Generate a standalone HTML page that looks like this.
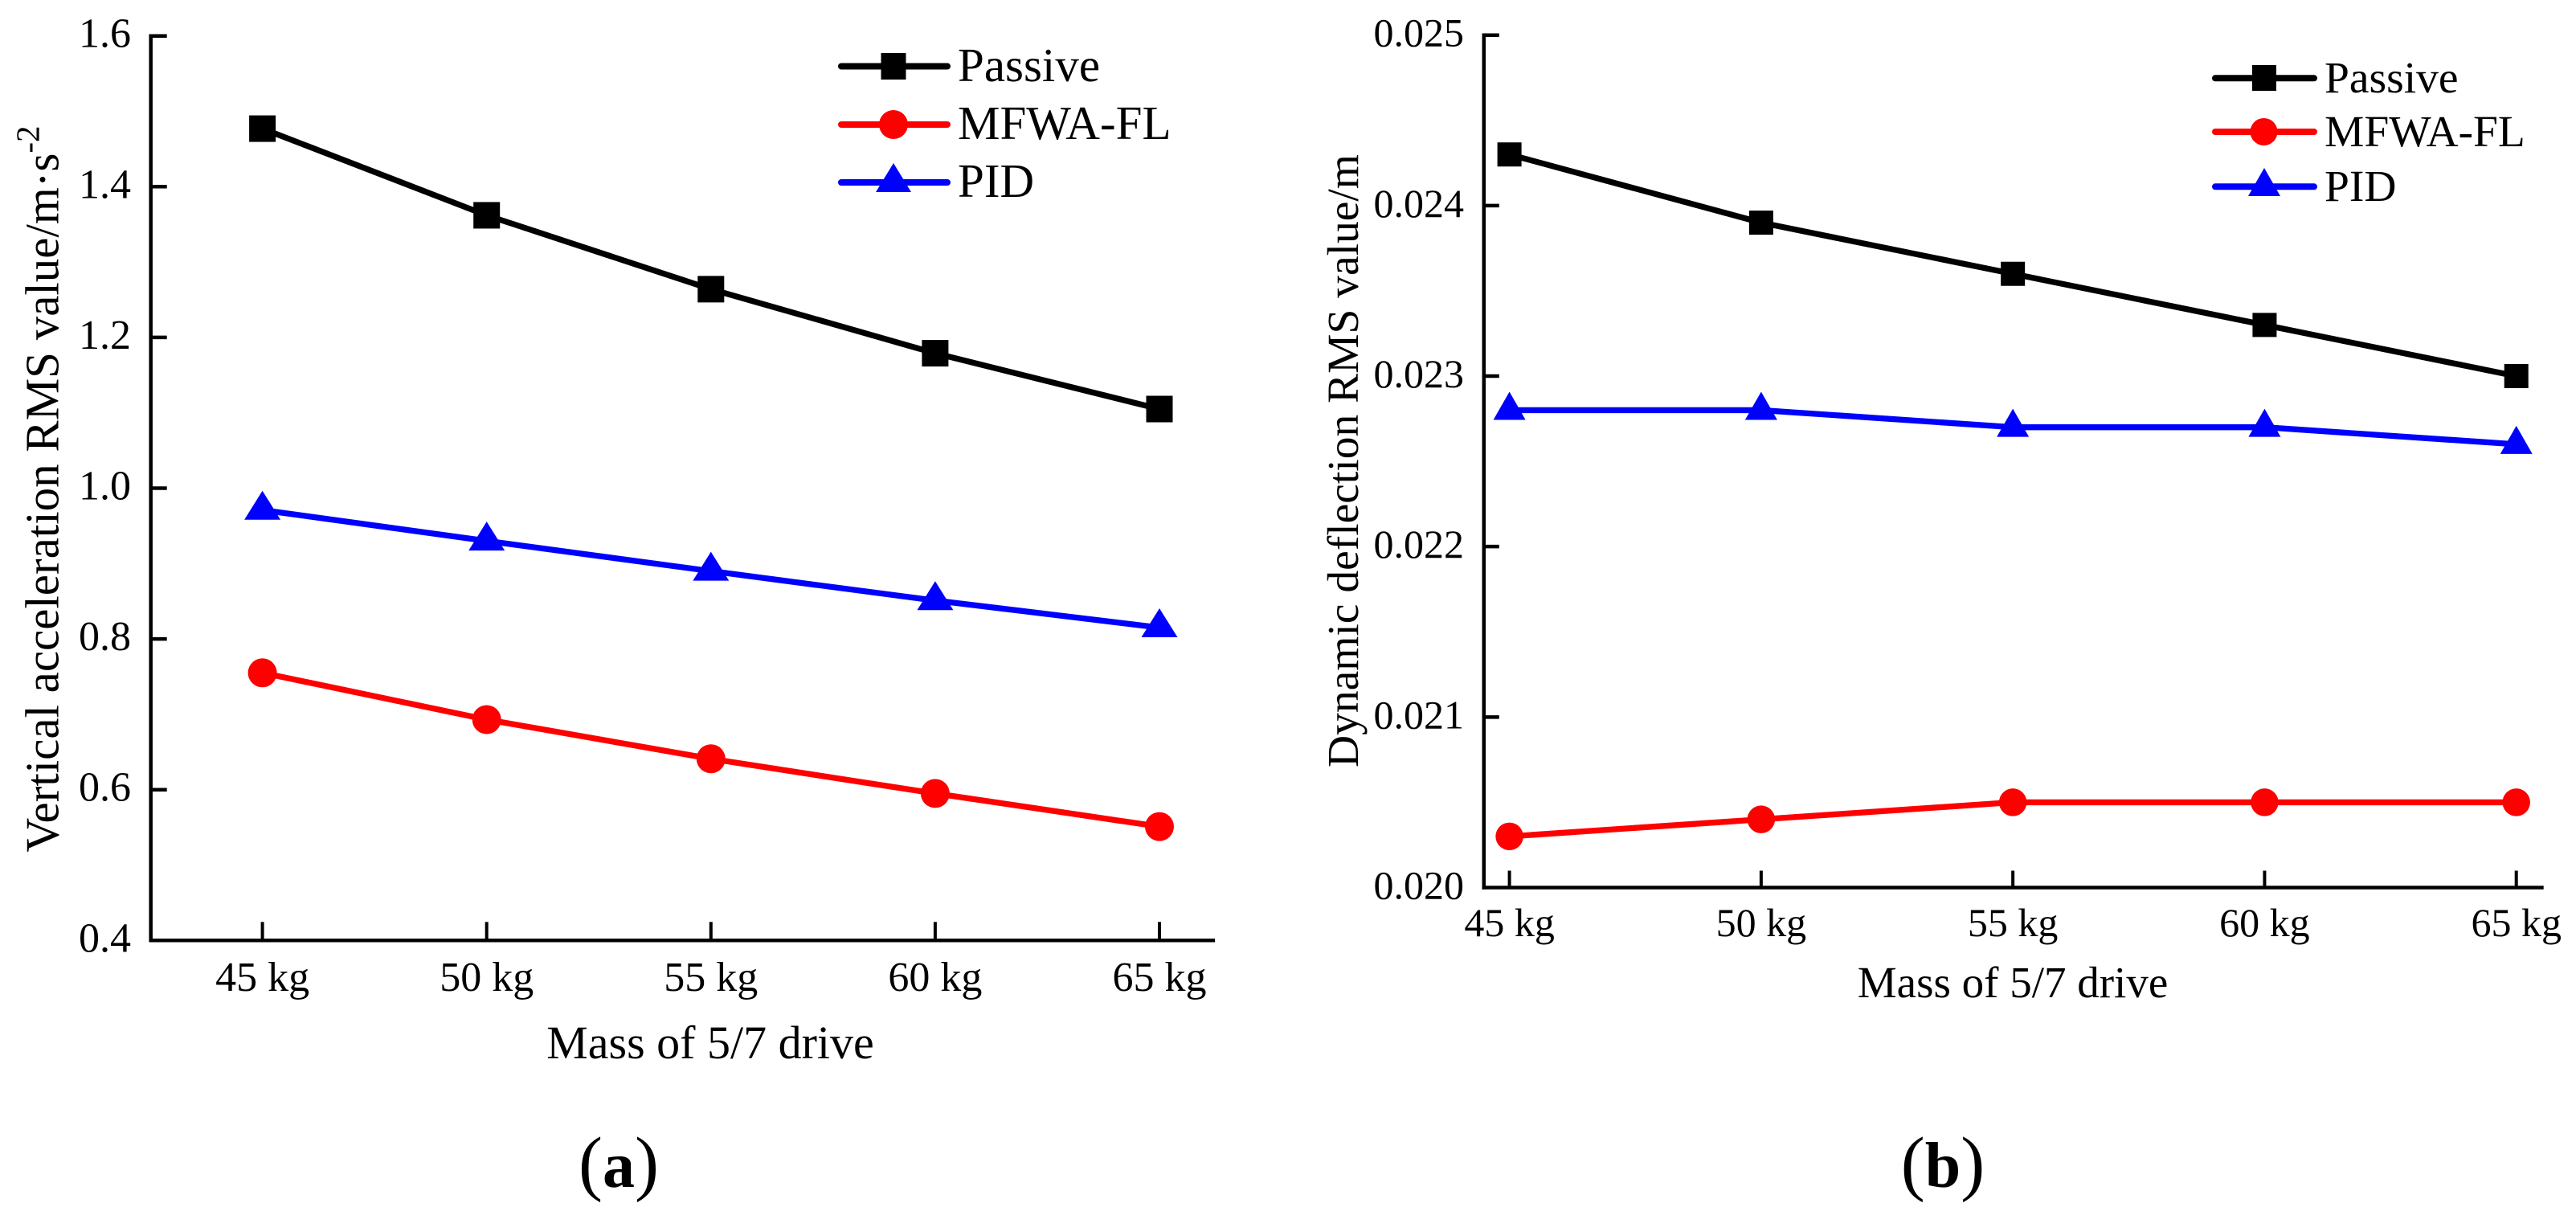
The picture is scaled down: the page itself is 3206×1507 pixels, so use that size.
<!DOCTYPE html>
<html lang="en">
<head>
<meta charset="utf-8">
<title>RMS values versus mass of 5/7 drive</title>
<style>
html,body{margin:0;padding:0;background:#fff;}
svg{display:block;}
text{font-family:"Liberation Serif",serif;fill:#000;}
</style>
</head>
<body>
<svg id="figure" xmlns="http://www.w3.org/2000/svg" width="3206" height="1507" viewBox="0 0 3206 1507">
  <rect width="3206" height="1507" fill="#fff"/>

  <g id="chart-a">
    <text transform="translate(72.5,608.5) rotate(-90)" text-anchor="middle" font-size="59">Vertical acceleration RMS value/m·s<tspan font-size="41" dy="-24">-2</tspan></text>
    <text x="884" y="1317" text-anchor="middle" font-size="58">Mass of 5/7 drive</text>
    <g>
      <line x1="1047" x2="1179" y1="82.5" y2="82.5" stroke="#000" stroke-width="8" stroke-linecap="round"/>
      <rect x="1096.5" y="66" width="31" height="33" fill="#000"/>
      <text x="1192" y="101" font-size="59">Passive</text>
      <line x1="1047" x2="1179" y1="155" y2="155" stroke="#f00" stroke-width="8" stroke-linecap="round"/>
      <circle cx="1112" cy="155" r="18" fill="#f00"/>
      <text x="1192" y="173" font-size="59">MFWA-FL</text>
      <line x1="1047" x2="1179" y1="227" y2="227" stroke="#00f" stroke-width="8" stroke-linecap="round"/>
      <polygon points="1112,203 1134,239 1090,239" fill="#00f"/>
      <text x="1192" y="245" font-size="59">PID</text>
    </g>
  </g>

  <g id="chart-b">
    <text transform="translate(1690,573.5) rotate(-90)" text-anchor="middle" font-size="55.5">Dynamic deflection RMS value/m</text>
    <text x="2505" y="1241" text-anchor="middle" font-size="55">Mass of 5/7 drive</text>
    <g>
      <line x1="2757" x2="2880" y1="97.3" y2="97.3" stroke="#000" stroke-width="8" stroke-linecap="round"/>
      <rect x="2803" y="81" width="30" height="32" fill="#000"/>
      <text x="2893" y="115" font-size="55.5">Passive</text>
      <line x1="2757" x2="2880" y1="164" y2="164" stroke="#f00" stroke-width="8" stroke-linecap="round"/>
      <circle cx="2817.5" cy="164" r="17" fill="#f00"/>
      <text x="2893" y="182" font-size="55.5">MFWA-FL</text>
      <line x1="2757" x2="2880" y1="232.3" y2="232.3" stroke="#00f" stroke-width="8" stroke-linecap="round"/>
      <polygon points="2818,209 2838,244 2798,244" fill="#00f"/>
      <text x="2893" y="250" font-size="55.5">PID</text>
    </g>
  </g>

  <text x="770" y="1477" text-anchor="middle" font-size="90">(<tspan font-weight="bold" font-size="80">a</tspan>)</text>
  <text x="2418" y="1477" text-anchor="middle" font-size="90">(<tspan font-weight="bold" font-size="80">b</tspan>)</text>
</svg>

<script>
const categories = ['45 kg', '50 kg', '55 kg', '60 kg', '65 kg'];

const yTickLabelsA = ['0.4', '0.6', '0.8', '1.0', '1.2', '1.4', '1.6'];
const passiveA = [1.477, 1.362, 1.264, 1.179, 1.105];
const mfwaFlA = [0.755, 0.693, 0.641, 0.595, 0.551];
const pidA = [0.971, 0.930, 0.890, 0.851, 0.815];

const yTickLabelsB = ['0.020', '0.021', '0.022', '0.023', '0.024', '0.025'];
const passiveB = [0.0243, 0.0239, 0.0236, 0.0233, 0.0230];
const mfwaFlB = [0.0203, 0.0204, 0.0205, 0.0205, 0.0205];
const pidB = [0.0228, 0.0228, 0.0227, 0.0227, 0.0226];

const NS = 'http://www.w3.org/2000/svg';

function make(parent, tag, attrs) {
  const node = document.createElementNS(NS, tag);
  Object.keys(attrs).forEach(function (k) { node.setAttribute(k, attrs[k]); });
  parent.appendChild(node);
  return node;
}

function linearScale(d0, d1, r0, r1) {
  return function (v) { return r0 + (v - d0) * (r1 - r0) / (d1 - d0); };
}

function drawMarker(group, kind, color, cx, cy, m) {
  if (kind === 'square') {
    return make(group, 'rect', { x: cx - m.square / 2, y: cy - m.square / 2, width: m.square, height: m.square, fill: color });
  }
  if (kind === 'circle') {
    return make(group, 'circle', { cx: cx, cy: cy, r: m.circle / 2, fill: color });
  }
  const pts = [[cx, cy - m.triUp], [cx + m.triHalf, cy + m.triDown], [cx - m.triHalf, cy + m.triDown]];
  return make(group, 'polygon', { points: pts.map(function (p) { return p.join(','); }).join(' '), fill: color });
}

function drawChart(opts) {
  const root = document.getElementById(opts.id);
  const tickLabels = opts.yLabels;
  const xScale = linearScale(0, categories.length - 1, opts.xFirst, opts.xLast);
  const yScale = linearScale(parseFloat(tickLabels[0]), parseFloat(tickLabels[tickLabels.length - 1]), opts.yBottom, opts.yTop);

  const axisY = make(root, 'line', { x1: opts.axisX, x2: opts.axisX, y1: opts.yTop - 2.2, y2: opts.yBottom + 2.2, stroke: '#000', 'stroke-width': 4.5 });
  
  

  const axisX = make(root, 'line', { x1: opts.axisX - 2.2, x2: opts.axisEnd, y1: opts.yBottom, y2: opts.yBottom, stroke: '#000', 'stroke-width': 4.5 });
  
  

  tickLabels.forEach(function (label) {
    const y = yScale(parseFloat(label));
    if (label !== tickLabels[0]) {
      const tick = make(root, 'line', { x1: opts.axisX, x2: opts.axisX + opts.yTickLen, y1: y, y2: y, stroke: '#000', 'stroke-width': 4.5 });
      
      
    }
    const text = make(root, 'text', { x: opts.yLabelX, y: y + 14, 'text-anchor': 'end', 'font-size': opts.tickFont });
    text.textContent = label;
    
    
  });

  categories.forEach(function (cat, i) {
    const x = xScale(i);
    const tick = make(root, 'line', { x1: x, x2: x, y1: opts.yBottom - opts.xTickLen, y2: opts.yBottom, stroke: '#000', 'stroke-width': 4 });
    
    
    const text = make(root, 'text', { x: x, y: opts.xLabelY, 'text-anchor': 'middle', 'font-size': opts.tickFont });
    text.textContent = cat;
    
    
  });

  opts.series.forEach(function (s) {
    const group = make(root, 'g', {});
    
    
    const points = s.values.map(function (v, i) { return xScale(i) + ',' + yScale(v); }).join(' ');
    const line = make(group, 'polyline', { points: points, fill: 'none', stroke: s.color, 'stroke-width': opts.lineWidth, 'stroke-linejoin': 'round' });
    
    
    s.values.forEach(function (v, i) {
      const marker = drawMarker(group, s.kind, s.color, xScale(i), yScale(v), opts.marker);
      
      
    });
  });
}

drawChart({
  id: 'chart-a', suffix: 'a', yLabels: yTickLabelsA,
  axisX: 187.7, axisEnd: 1512, xFirst: 326.6, xLast: 1443, yTop: 44.7, yBottom: 1170.3,
  yTickLen: 20, xTickLen: 23, yLabelX: 163, xLabelY: 1233, tickFont: 52, lineWidth: 7.3,
  marker: { square: 33, circle: 36, triUp: 24, triDown: 12, triHalf: 22.5 },
  series: [
    { name: 'passive', kind: 'square', color: '#000', values: passiveA },
    { name: 'mfwa-fl', kind: 'circle', color: '#f00', values: mfwaFlA },
    { name: 'pid', kind: 'triangle', color: '#00f', values: pidA }
  ]
});

drawChart({
  id: 'chart-b', suffix: 'b', yLabels: yTickLabelsB,
  axisX: 1846.8, axisEnd: 3165.7, xFirst: 1878.6, xLast: 3131.7, yTop: 43.7, yBottom: 1104.5,
  yTickLen: 19, xTickLen: 21, yLabelX: 1822, xLabelY: 1165, tickFont: 50, lineWidth: 7.3,
  marker: { square: 30, circle: 34.5, triUp: 23, triDown: 12, triHalf: 20 },
  series: [
    { name: 'passive', kind: 'square', color: '#000', values: passiveB },
    { name: 'mfwa-fl', kind: 'circle', color: '#f00', values: mfwaFlB },
    { name: 'pid', kind: 'triangle', color: '#00f', values: pidB }
  ]
});
</script>
</body>
</html>
